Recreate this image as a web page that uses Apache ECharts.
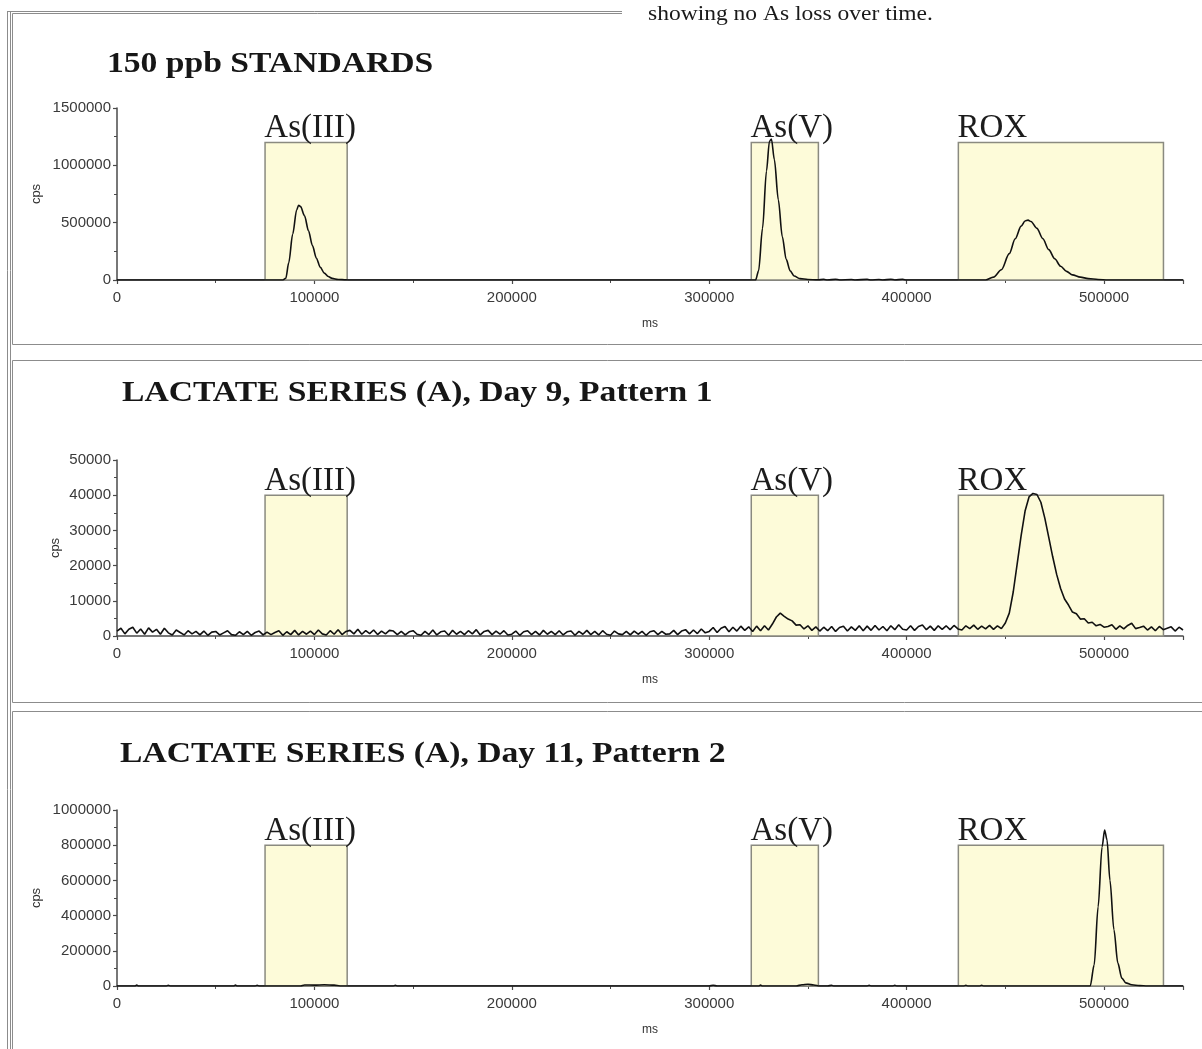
<!DOCTYPE html>
<html>
<head>
<meta charset="utf-8">
<script src="https://cdn.jsdelivr.net/npm/echarts@6/dist/echarts.min.js"></script>
<style>
html,body{margin:0;padding:0;background:#fff;}
#c{width:1202px;height:1049px;}
</style>
</head>
<body>
<div id="c"></div>
<script>
// ---------------- data ----------------
const NOTE_TEXT = 'showing no As loss over time.';
const PANEL_TITLES = ['150 ppb STANDARDS', 'LACTATE SERIES (A), Day 9, Pattern 1', 'LACTATE SERIES (A), Day 11, Pattern 2'];
const X_NAME = 'ms';
const Y_NAME = 'cps';
const X_MAX = 540000;
const X_STEP = 100000;
const Y_MAX = [1500000, 50000, 1000000];
const Y_STEP = [500000, 10000, 200000];

// retention windows (ms) and their drawn heights (cps) per panel
const WINDOW_NAMES = ['As(III)', 'As(V)', 'ROX'];
const WINDOW_START = [75000, 321300, 426200];
const WINDOW_END = [116600, 355300, 530100];
const WINDOW_TOP = [1200000, 40000, 800000];

// Panel 1: 150 ppb standards  [ms, cps]
const STD_TRACE = [
  [0,0],[84000,0],[85500,15000],[87000,150000],[89000,400000],[91000,610000],[92000,652000],[93000,640000],
  [95000,560000],[97000,430000],[99000,300000],[101000,190000],[103000,110000],[105000,60000],[107000,30000],
  [109000,14000],[112000,5000],[116000,1000],[118000,0],
  [323500,0],[325000,80000],[327000,450000],[329000,950000],[330500,1210000],[331500,1230000],[333000,1050000],
  [335000,700000],[337000,380000],[339000,180000],[341000,80000],[343000,35000],[346000,12000],[350000,4000],
  [355000,1000],[358000,6000],[360000,0],[364000,7000],[366000,0],[372000,5000],[374000,0],[380000,6000],
  [382000,0],[386000,5000],[388000,0],[392000,7000],[394000,0],[398000,6000],[400000,0],
  [440000,0],[444000,25000],[448000,90000],[452000,230000],[455000,360000],[458000,470000],[460000,515000],
  [461500,522000],[463000,510000],[466000,450000],[469000,360000],[472000,265000],[475000,185000],
  [478000,120000],[481000,75000],[484000,45000],[488000,25000],[492000,12000],[497000,5000],[502000,0],[540000,0]
];

// Panel 2: Day 9 trace, one reading every DAY9_STEP_MS starting at 0 ms (cps)
const DAY9_STEP_MS = 2000;
const DAY9_CPS = [
  1400,2200,600,1900,2500,800,2000,500,2300,1100,
  1900,500,2200,900,300,1700,1000,300,1500,600,
  1300,300,1400,200,1100,1300,300,900,1500,400,
  200,1200,400,1300,200,1000,1400,300,1100,400,
  1000,1500,200,1200,400,1600,300,1300,500,1400,
  400,1700,600,300,1500,500,1800,400,1300,1600,
  600,1900,500,1500,700,1700,400,1400,600,1600,
  1400,400,1300,300,1200,1500,500,200,1300,400,
  1700,300,1200,1400,200,1600,500,1300,400,1500,
  600,1800,300,1300,1600,400,1400,500,1500,300,
  500,1400,200,1200,1500,400,1300,300,1600,500,
  1300,400,1500,300,1200,1400,200,1300,500,1600,
  400,1300,300,1500,500,200,1400,600,400,1300,
  300,1400,500,1300,200,1200,1500,400,1300,500,
  600,1600,400,1400,1800,600,1700,700,2000,900,
  1300,2400,1000,2200,2700,1200,2500,1400,2800,1600,
  2600,1300,2800,1500,2900,1700,3400,5400,6500,5600,
  4800,4300,3100,3200,2000,2900,1600,2600,1400,2500,
  1500,2700,1300,2400,2800,1400,2600,1600,2900,1500,
  2800,1600,3000,1700,2700,1500,2900,1800,3200,1900,
  1700,2900,1600,2700,3100,1800,2800,1600,2900,1900,
  2900,1800,3000,2000,1700,2900,2100,3100,1900,2800,
  2000,3000,1900,2900,2100,3700,6500,12500,20500,28500,
  35500,39500,40500,40200,38000,33500,28000,22500,17500,13500,
  10500,8800,6800,6300,4800,4900,3700,3900,2900,3300,
  2500,2700,3200,1900,2900,2000,3000,3600,2100,2400,
  2800,1700,2600,1500,2700,1800,2200,2600,1400,2500,
  1700
];

// Panel 3: Day 11 trace [ms, cps]
const DAY11_TRACE = [
  [0,0],[9000,0],[10000,5000],[11000,0],[25000,0],[26000,4000],[27000,0],[59000,0],[60000,5000],[61000,0],
  [70000,0],[71000,4000],[72000,0],[93000,0],[95000,6000],[100000,5000],[105000,7000],[110000,5000],[113000,0],
  [140000,0],[141000,4000],[142000,0],[300000,0],[302000,4000],[304000,0],[325000,0],[326000,5000],[327000,0],
  [344000,0],[347000,7000],[350000,10000],[353000,6000],[356000,0],[360000,0],[362000,4000],[363000,0],
  [380000,0],[381000,4000],[382000,0],[393000,0],[394000,4000],[395000,0],[429000,0],[430000,4000],[431000,0],
  [437000,0],[438000,4000],[439000,0],
  [493000,0],[495000,120000],[497000,450000],[499000,790000],[500300,886000],[501500,830000],[503000,600000],
  [505000,320000],[507000,130000],[509000,45000],[511000,18000],[514000,7000],[518000,2000],[522000,0],[540000,0]
];

// ---------------- chart ----------------
const chart = echarts.init(document.getElementById('c'), null, {renderer: 'canvas'});

const GRIDS = [
  {left: 117, top: 108, width: 1066, height: 172},
  {left: 117, top: 460, width: 1066, height: 176},
  {left: 117, top: 810, width: 1066, height: 176}
];
const TITLE_POS = [[107, 49], [122, 378], [120, 739]];
const Y_NAME_GAP = [74, 55, 74];

const AX = '#4a4a4a';
const LAB = {fontFamily: '"Liberation Sans", Arial, sans-serif', fontSize: 15, color: '#3a3a3a'};
const plain = v => String(v);

const xAxes = GRIDS.map((g, i) => ({
  type: 'value', gridIndex: i, min: 0, max: X_MAX, interval: X_STEP,
  name: X_NAME, nameLocation: 'middle', nameGap: 38, nameMoveOverlap: false,
  nameTextStyle: {fontFamily: LAB.fontFamily, fontSize: 12, color: '#333'},
  axisLine: {show: true, onZero: false, lineStyle: {color: AX, width: 1.5}},
  axisTick: {show: true, length: 4, lineStyle: {color: AX, width: 1.2}},
  minorTick: {show: true, splitNumber: 2, length: 3, lineStyle: {color: AX, width: 1}},
  splitLine: {show: false},
  axisLabel: Object.assign({margin: 10, showMaxLabel: false, formatter: plain}, LAB)
}));

const yAxes = GRIDS.map((g, i) => ({
  type: 'value', gridIndex: i, min: 0, max: Y_MAX[i], interval: Y_STEP[i],
  name: Y_NAME, nameLocation: 'middle', nameGap: Y_NAME_GAP[i], nameMoveOverlap: false,
  nameTextStyle: {fontFamily: LAB.fontFamily, fontSize: 13, color: '#333'},
  axisLine: {show: true, lineStyle: {color: AX, width: 1.5}},
  axisTick: {show: true, length: 4, lineStyle: {color: AX, width: 1.2}},
  minorTick: {show: true, splitNumber: 2, length: 3, lineStyle: {color: AX, width: 1}},
  splitLine: {show: false},
  axisLabel: Object.assign({margin: 6, formatter: plain}, LAB)
}));

const traces = [
  STD_TRACE,
  DAY9_CPS.map((v, k) => [k * DAY9_STEP_MS, v]),
  DAY11_TRACE
];

const series = [];
GRIDS.forEach((g, i) => {
  series.push({
    type: 'line', xAxisIndex: i, yAxisIndex: i, data: [], z: 1, silent: true,
    markArea: {
      silent: true,
      itemStyle: {color: '#fdfbd9', borderColor: '#8a8a80', borderWidth: 1.5},
      label: {show: true, position: [0, -30], fontFamily: '"Liberation Serif", "Times New Roman", serif',
              fontSize: 33, color: '#1c1c1c'},
      data: WINDOW_NAMES.map((n, k) => [
        {name: n, xAxis: WINDOW_START[k], yAxis: 0},
        {xAxis: WINDOW_END[k], yAxis: WINDOW_TOP[i]}
      ])
    }
  });
  series.push({
    type: 'line', xAxisIndex: i, yAxisIndex: i, data: traces[i], z: 3,
    showSymbol: false, silent: true,
    smooth: i === 1 ? false : 0.3, smoothMonotone: 'x',
    lineStyle: {color: '#111', width: i === 1 ? 1.6 : 1.6}
  });
});

const FRAME = '#8c8c8c';
const line = (x1, y1, x2, y2, c) => ({type: 'line', silent: true, shape: {x1, y1, x2, y2},
  style: {stroke: c || FRAME, lineWidth: 1}});

const graphic = [
  // outer frame
  line(7.5, 11, 7.5, 1049), line(10.5, 11, 10.5, 1049),
  line(7.5, 11.5, 622, 11.5),
  // panel 1
  line(12.5, 13.5, 622, 13.5), line(12.5, 13.5, 12.5, 344.5), line(12.5, 344.5, 1202, 344.5),
  // panel 2
  line(12.5, 360.5, 1202, 360.5), line(12.5, 360.5, 12.5, 702.5), line(12.5, 702.5, 1202, 702.5),
  // panel 3
  line(12.5, 711.5, 1202, 711.5), line(12.5, 711.5, 12.5, 1049),
  {type: 'text', x: 648, y: 14, scaleX: 1.12, silent: true,
   style: {text: NOTE_TEXT, fill: '#1a1a1a', font: '21px "Liberation Serif", "Times New Roman", serif',
           textVerticalAlign: 'middle'}}
].concat(PANEL_TITLES.map((t, i) => ({
  type: 'text', x: TITLE_POS[i][0], y: TITLE_POS[i][1], scaleX: 1.12, silent: true,
  style: {text: t, fill: '#161616', font: 'bold 30px "Liberation Serif", "Times New Roman", serif',
          textVerticalAlign: 'top'}
})));

chart.setOption({
  backgroundColor: '#ffffff',
  animation: false,
  grid: GRIDS,
  xAxis: xAxes,
  yAxis: yAxes,
  series: series,
  graphic: graphic
});
</script>
</body>
</html>
